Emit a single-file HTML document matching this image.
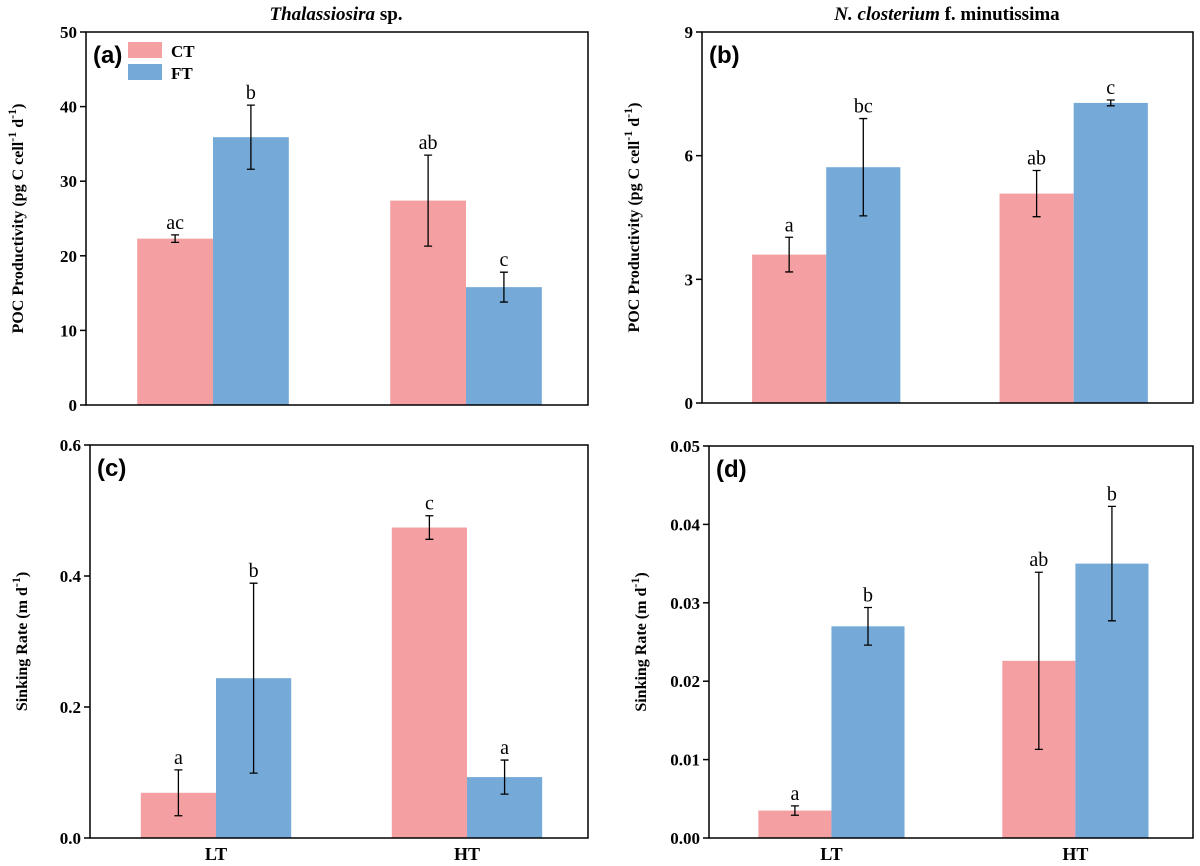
<!DOCTYPE html>
<html><head><meta charset="utf-8"><style>
body{margin:0;background:#fff}
svg text{font-family:"Liberation Serif",serif;font-weight:bold}
</style></head><body>
<svg id="s" width="1200" height="861" xmlns="http://www.w3.org/2000/svg"></svg>
<script>
const groups=["LT","HT"];
const seriesNames=["CT","FT"];
const aVals=[[22.3,27.4],[35.9,15.8]];
const aErr=[[0.5,6.1],[4.3,2.0]];
const aLet=[["ac","ab"],["b","c"]];
const aTicks=[0,10,20,30,40,50];
const bVals=[[3.6,5.08],[5.72,7.28]];
const bErr=[[0.42,0.56],[1.18,0.07]];
const bLet=[["a","ab"],["bc","c"]];
const bTicks=[0,3,6,9];
const cVals=[[0.069,0.474],[0.244,0.093]];
const cErr=[[0.035,0.018],[0.145,0.026]];
const cLet=[["a","c"],["b","a"]];
const cTicks=["0.0","0.2","0.4","0.6"];
const dVals=[[0.0035,0.0226],[0.027,0.035]];
const dErr=[[0.0006,0.0113],[0.0024,0.0073]];
const dLet=[["a","ab"],["b","b"]];
const dTicks=["0.00","0.01","0.02","0.03","0.04","0.05"];
const colors=["#f4a0a3","#75aad8"];
const NS="http://www.w3.org/2000/svg";
const svg=document.getElementById('s');
function mk(t,a,p){const e=document.createElementNS(NS,t);for(const k in a)e.setAttribute(k,a[k]);(p||svg).appendChild(e);return e;}
function panel(id,x0,x1,y0,y1,ticks,vals,errs,lets,label,ytitle,showX,legend){
  const g=mk('g',{});
  
  
  const tv=ticks.map(Number);const max=tv[tv.length-1];
  const y=v=>y1-(v/max)*(y1-y0);
  const w=x1-x0;
  const bw=w*0.151;
  const centers=[x0+w*0.253,x0+w*0.757];
  for(let s=0;s<2;s++)for(let i=0;i<2;i++){
    const bx=s==0?centers[i]-bw:centers[i];
    const r=mk('rect',{x:bx,y:y(vals[s][i]),width:bw,height:y1-y(vals[s][i]),fill:colors[s]},g);
    
    
    const cx=bx+bw/2,hi=y(vals[s][i]+errs[s][i]),lo=y(Math.max(0,vals[s][i]-errs[s][i]));
    const e=mk('path',{d:`M${cx},${hi}V${lo}M${cx-4},${hi}H${cx+4}M${cx-4},${lo}H${cx+4}`,stroke:'#000','stroke-width':1.3,fill:'none'},g);
    
    
    const t=mk('text',{x:cx,y:hi-6,'text-anchor':'middle','font-size':20,style:'font-weight:normal'},g);t.textContent=lets[s][i];
    
    
  }
  const f=mk('rect',{x:x0,y:y0,width:w,height:y1-y0,fill:'none',stroke:'#000','stroke-width':1.5},g);
  
  
  ticks.forEach(tk=>{const yy=y(Number(tk));
    mk('line',{x1:x0-6,x2:x0,y1:yy,y2:yy,stroke:'#000','stroke-width':1.5},g);
    const t=mk('text',{x:x0-9,y:yy+6,'text-anchor':'end','font-size':17},g);t.textContent=tk;
    
    
  });
  if(showX)groups.forEach((gn,i)=>{const t=mk('text',{x:centers[i],y:y1+22,'text-anchor':'middle','font-size':18},g);t.textContent=gn;
    
    });
  const pl=mk('text',{x:x0+7,y:y0+31,'font-size':24,style:'font-family:"Liberation Sans",sans-serif'},g);pl.textContent=label;
  
  
  const cy=(y0+y1)/2;
  const yt=mk('text',{x:0,y:0,'text-anchor':'middle','font-size':16,transform:`translate(${x0-63},${cy}) rotate(-90)`},g);
  yt.innerHTML=ytitle;
  
  
  if(legend){seriesNames.forEach((n,s)=>{
    const r=mk('rect',{x:128,y:42+s*22,width:34,height:16,fill:colors[s]},g);
    
    
    const t=mk('text',{x:171,y:57+s*22,'font-size':17},g);t.textContent=n;
    
    });}
}
const poc='POC Productivity (pg C cell<tspan dy="-7" font-size="12">-1</tspan><tspan dy="7"> d</tspan><tspan dy="-7" font-size="12">-1</tspan><tspan dy="7">)</tspan>';
const sink='Sinking Rate (m d<tspan dy="-7" font-size="12">-1</tspan><tspan dy="7">)</tspan>';
panel('a',86,588,32,405,aTicks,aVals,aErr,aLet,'(a)',poc,false,true);
panel('b',702,1193,32,403,bTicks,bVals,bErr,bLet,'(b)',poc,false,false);
panel('c',90,588,445,838,cTicks,cVals,cErr,cLet,'(c)',sink,true,false);
panel('d',709,1193,446,838,dTicks,dVals,dErr,dLet,'(d)',sink,true,false);
let t1=mk('text',{x:336,y:20,'text-anchor':'middle','font-size':19});
t1.innerHTML='<tspan font-style="italic">Thalassiosira</tspan> sp.';


let t2=mk('text',{x:947,y:20,'text-anchor':'middle','font-size':19});
t2.innerHTML='<tspan font-style="italic">N. closterium</tspan> f. minutissima';


</script>
</body></html>
